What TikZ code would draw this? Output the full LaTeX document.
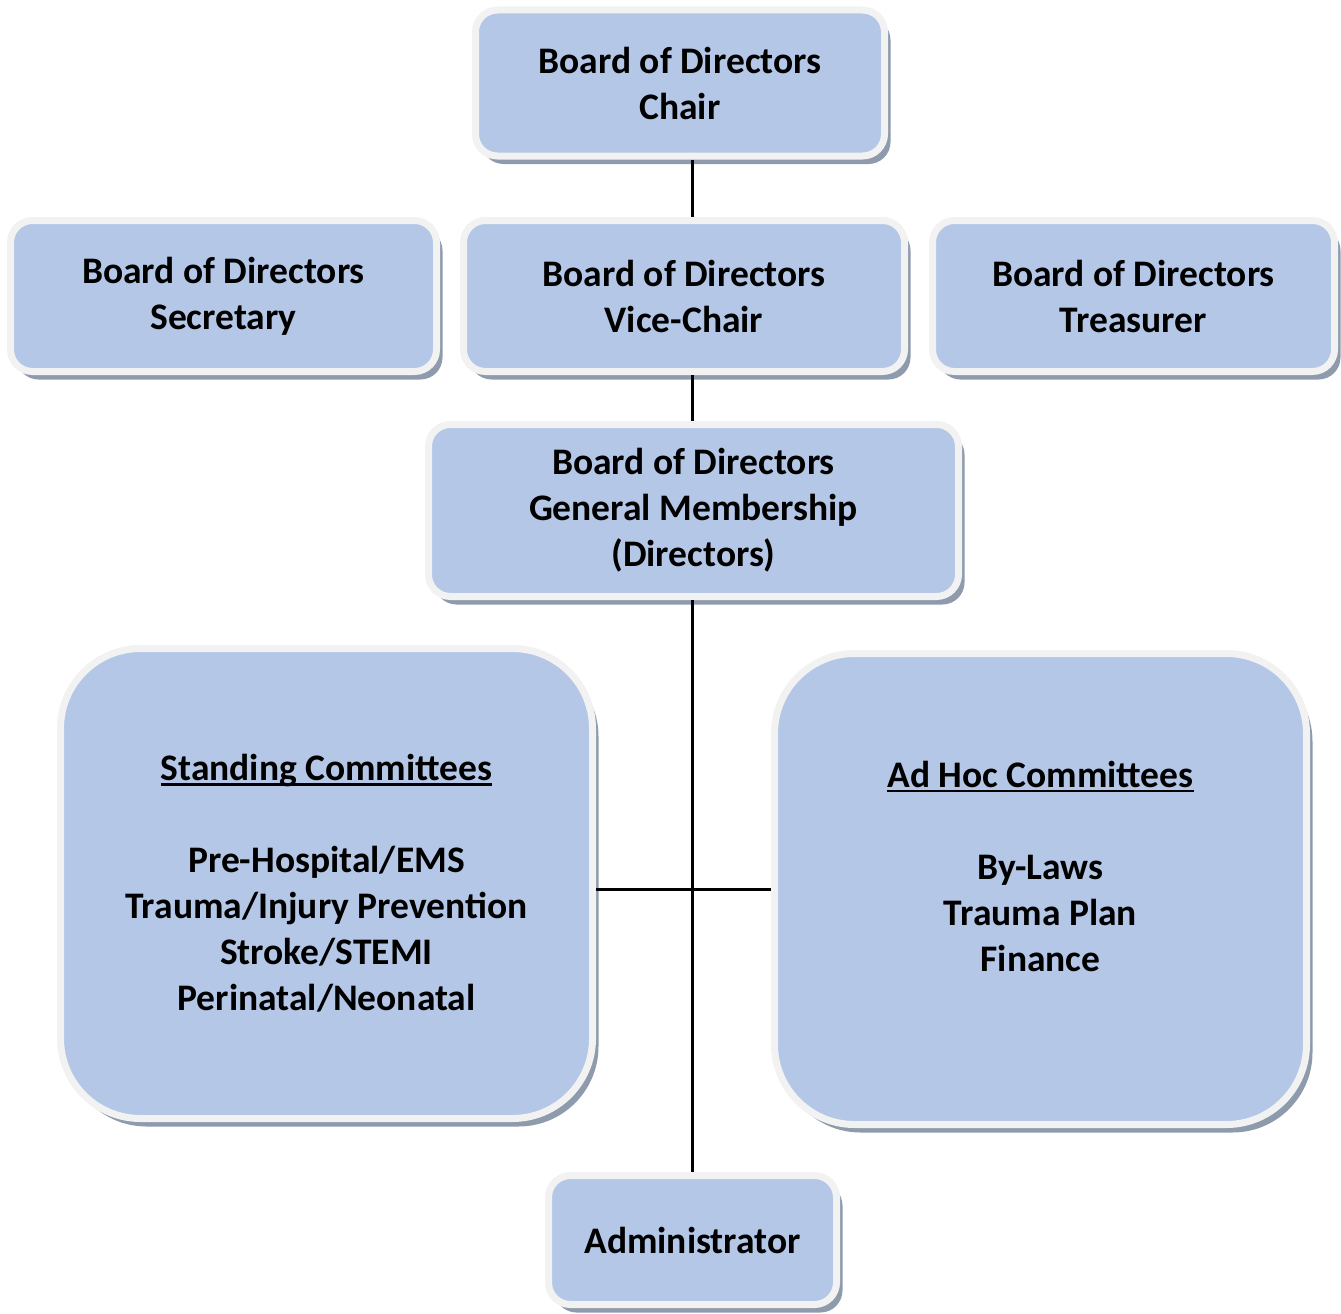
\documentclass[tikz,border=0pt]{standalone}
\usepackage{fontspec}
\setmainfont{Carlito}
\usepackage{xcolor}
\definecolor{orgfill}{HTML}{B4C7E7}
\definecolor{orgrim}{HTML}{F2F2F2}
\definecolor{orgshade}{HTML}{8E9BAD}
\usetikzlibrary{shadows}

% underlined heading with a rule close to the baseline
\newcommand{\orghead}[1]{\setbox0\hbox{#1}\rlap{\rule[-5pt]{\wd0}{2.5pt}}\box0}

\begin{document}
\begin{tikzpicture}[x=1pt,y=-1pt,
  orgbox/.style={draw=orgrim,line width=7pt,fill=orgfill,rounded corners=22pt,
    drop shadow={shadow xshift=6pt,shadow yshift=-8pt,fill=orgshade,opacity=1},
    align=center,inner sep=0pt,font=\fontsize{37.5}{46}\selectfont\bfseries},
  bigbox/.style={orgbox,rounded corners=80pt},
  link/.style={line width=3pt}]
\useasboundingbox (0,0) rectangle (1341,1314);

% officers
\node[orgbox,minimum width=409pt,minimum height=146pt] (chair) at (680,83)
  {Board of Directors\\Chair};
\node[orgbox,minimum width=426pt,minimum height=151pt] (secretary) at (223.5,296)
  {Board of Directors\\Secretary};
\node[orgbox,minimum width=441pt,minimum height=151pt] (vice) at (684,296)
  {Board of Directors\\Vice-Chair};
\node[orgbox,minimum width=402pt,minimum height=151pt] (treasurer) at (1133.5,296)
  {Board of Directors\\Treasurer};
\node[orgbox,minimum width=530pt,minimum height=172pt] (general) at (693.5,510.5)
  {Board of Directors\\General Membership\\(Directors)};

% committees
\node[bigbox,minimum width=532pt,minimum height=470pt] (standing) at (326.5,883.5)
  {\orghead{Standing Committees}\\[46pt]Pre-Hospital/EMS\\Trauma/Injury Prevention\\Stroke/STEMI\\Perinatal/Neonatal};
\node[bigbox,minimum width=532pt,minimum height=471pt] (adhoc) at (1040.5,889)
  {\orghead{Ad Hoc Committees}\\[46pt]By-Laws\\Trauma Plan\\Finance\\\mbox{}};

\node[orgbox,minimum width=288pt,minimum height=129pt] (admin) at (692.5,1240)
  {Administrator};

% connectors
\draw[link] (chair.south -| admin.north) -- (vice.north -| admin.north);
\draw[link] (vice.south -| admin.north) -- (general.north -| admin.north);
\draw[link] (general.south -| admin.north) -- (admin.north);
\draw[link] (adhoc.west -| standing.east) -- (adhoc.west);
\end{tikzpicture}
\end{document}
